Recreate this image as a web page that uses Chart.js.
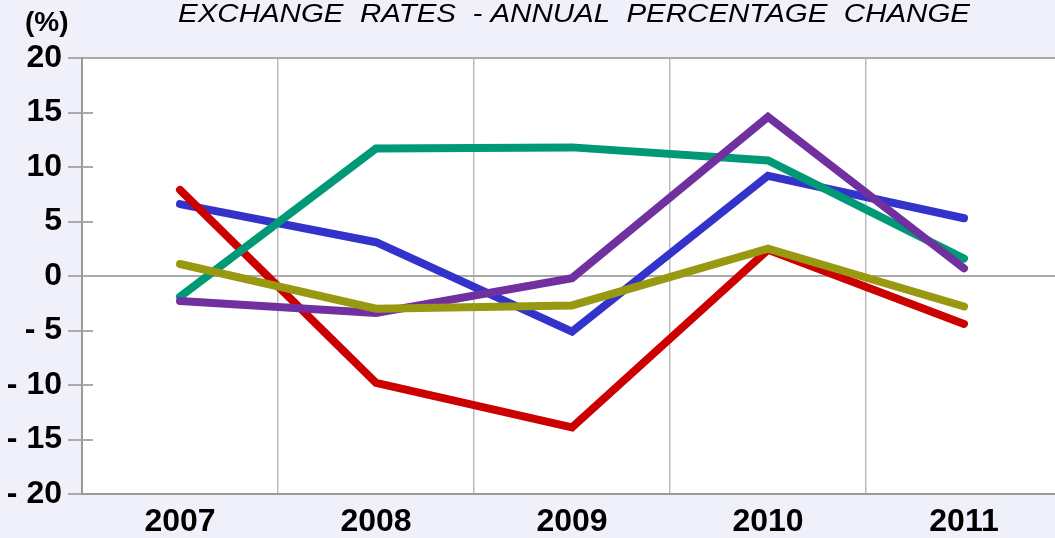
<!DOCTYPE html>
<html>
    <head>
        <meta charset="UTF-8" />
        <title> Exchange rates </title>
        <style type="text/css">
            html, body{
                margin: 0;
                padding: 0;
                overflow: hidden;
                background: #f0f0fa;
            }
            .chartBox{
                width: 1080px;
                height: 538px;
            }
        </style>
    </head>
    <body>
        <div class="chartBox">
            <canvas id="myChart" width="1080" height="538"></canvas>
        </div>

        <script src="https://cdn.jsdelivr.net/npm/chart.js"></script>

        <script>
        //data
        const years = ['2007', '2008', '2009', '2010', '2011'];
        const blueSeries = [6.6, 3.1, -5.1, 9.2, 5.3];
        const greenSeries = [-1.9, 11.7, 11.8, 10.6, 1.6];
        const redSeries = [7.9, -9.8, -13.9, 2.4, -4.4];
        const purpleSeries = [-2.3, -3.4, -0.2, 14.6, 0.7];
        const oliveSeries = [1.1, -3.0, -2.7, 2.5, -2.8];
        const yTicks = [-20, -15, -10, -5, 0, 5, 10, 15, 20];

        const FONT = "'Liberation Sans', Arial, sans-serif";

        function line(values, color, order) {
            return {
                data: values,
                borderColor: color,
                backgroundColor: color,
                borderWidth: 8,
                borderCapStyle: 'round',
                borderJoinStyle: 'miter',
                pointRadius: 0,
                tension: 0,
                fill: false,
                order: order
            };
        }

        //white plot area, inner ticks, title and unit
        const decor = {
            id: 'decor',
            beforeDraw(chart) {
                const a = chart.chartArea;
                const ctx = chart.ctx;
                ctx.save();
                ctx.fillStyle = '#ffffff';
                ctx.fillRect(a.left, a.top, a.right - a.left, a.bottom - a.top);
                ctx.restore();
            },
            afterDraw(chart) {
                const ctx = chart.ctx;
                const a = chart.chartArea;
                const y = chart.scales.y;
                ctx.save();
                ctx.strokeStyle = '#aaaaaa';
                ctx.lineWidth = 2;
                yTicks.forEach(v => {
                    if (v === 0 || v === 20 || v === -20) return;
                    const py = Math.round(y.getPixelForValue(v));
                    ctx.beginPath();
                    ctx.moveTo(a.left, py);
                    ctx.lineTo(a.left + 11, py);
                    ctx.stroke();
                });
                ctx.fillStyle = '#000000';
                ctx.textBaseline = 'alphabetic';
                ctx.textAlign = 'left';
                // title is a bit wider in the original, stretch it
                const title = 'EXCHANGE  RATES  - ANNUAL  PERCENTAGE  CHANGE';
                ctx.font = 'italic 26px ' + FONT;
                const w = ctx.measureText(title).width;
                ctx.save();
                ctx.translate(178, 22);
                ctx.scale(792 / w, 1);
                ctx.fillText(title, 0, 0);
                ctx.restore();
                ctx.font = 'bold 28px ' + FONT;
                ctx.fillText('(%)', 25, 31);
                ctx.restore();
            }
        };

        const config = {
            type: 'line',
            data: {
                labels: years,
                datasets: [
                    line(blueSeries, '#3333cc', 5),
                    line(redSeries, '#cc0000', 4),
                    line(greenSeries, '#009977', 3),
                    line(purpleSeries, '#7030a0', 2),
                    line(oliveSeries, '#999911', 1)
                ]
            },
            options: {
                responsive: false,
                animation: false,
                layout: {
                    padding: { top: 58, right: 18, left: 0, bottom: 0 }
                },
                plugins: {
                    legend: { display: false },
                    tooltip: { enabled: false }
                },
                scales: {
                    x: {
                        offset: true,
                        grid: {
                            offset: true,
                            color: '#bbbbbb',
                            lineWidth: 1.5,
                            drawTicks: false
                        },
                        border: { color: '#999999', width: 2 },
                        ticks: {
                            color: '#000000',
                            padding: 9,
                            maxRotation: 0,
                            font: { family: FONT, size: 32, weight: 'bold' }
                        },
                        afterFit(scale) { scale.height = 44; }
                    },
                    y: {
                        min: -20,
                        max: 20,
                        afterBuildTicks(scale) {
                            scale.ticks = yTicks.map(v => ({ value: v }));
                        },
                        grid: {
                            color: ctx => (ctx.tick && (ctx.tick.value === 0 || ctx.tick.value === 20)) ? '#aaaaaa' : 'rgba(0,0,0,0)',
                            lineWidth: 2,
                            tickColor: '#aaaaaa',
                            tickLength: 14
                        },
                        border: { color: '#999999', width: 2 },
                        ticks: {
                            color: '#000000',
                            padding: 6,
                            font: { family: FONT, size: 32, weight: 'bold' },
                            callback: v => v < 0 ? '- ' + Math.abs(v) : String(v)
                        },
                        afterFit(scale) { scale.width = 82; }
                    }
                }
            },
            plugins: [decor]
        };

        const myChart = new Chart(document.getElementById('myChart'), config);
        </script>
    </body>
</html>
